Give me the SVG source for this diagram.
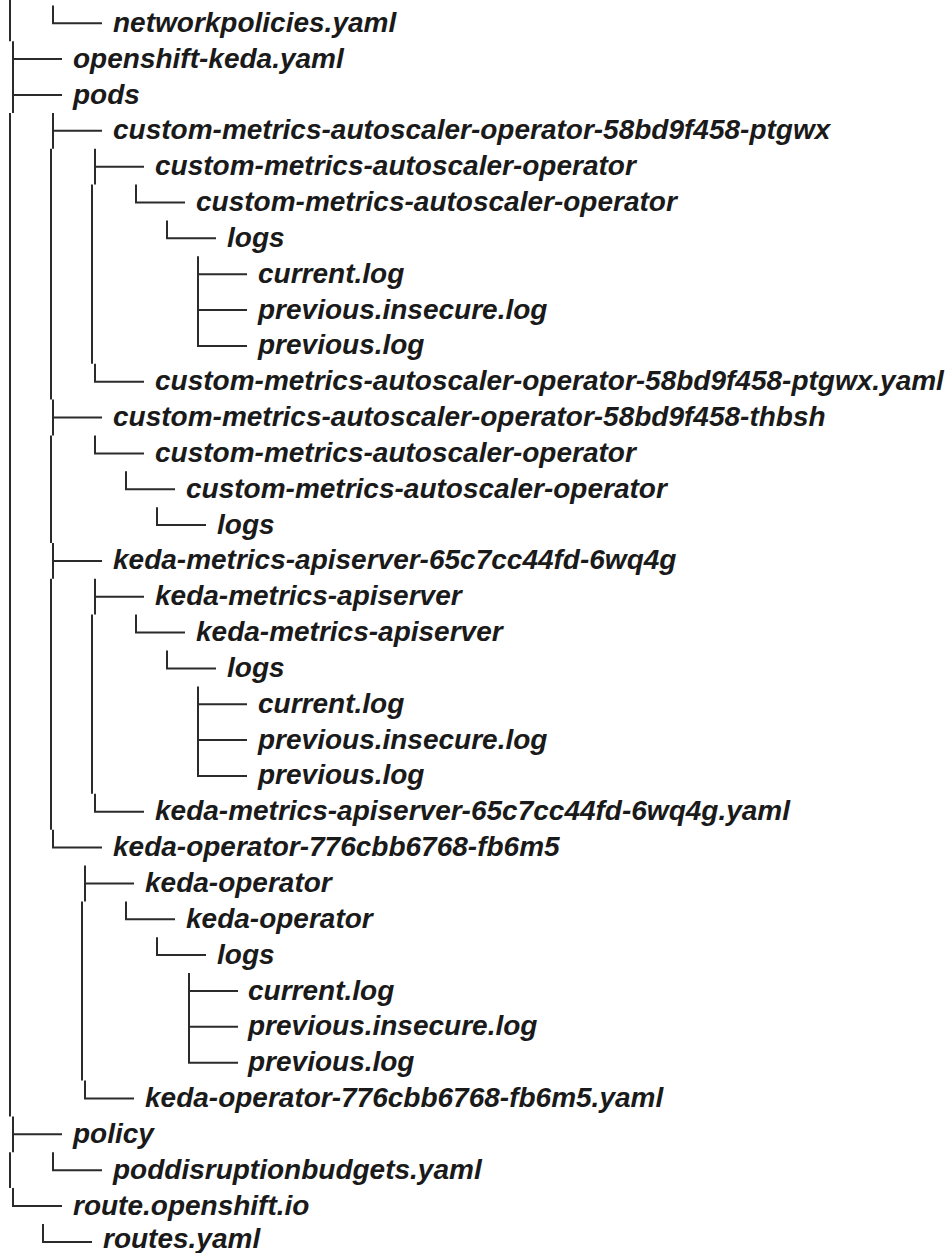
<svg xmlns="http://www.w3.org/2000/svg" width="952" height="1253" viewBox="0 0 952 1253">
<style>
.t{font-family:"Liberation Sans",Arial,sans-serif;font-weight:bold;font-style:italic;font-size:28px;fill:#1a1a1a}
.ln{fill:none;stroke:#2b2b2b;stroke-width:2}
</style>
<rect width="952" height="1253" fill="#ffffff"/>
<g id="connectors">
<path class="ln" d="M10 0V41.2M10 112.9V1116.4M10 1152.3V1188.1"/>
<path class="ln" d="M13 41.2V112.9M13 59.1H62M13 95H62"/>
<path class="ln" d="M13 1116.4V1152.3M13 1134.3H62"/>
<path class="ln" d="M13 1188.1V1206H62"/>
<path class="ln" d="M53 5.4V23.3H102"/>
<path class="ln" d="M53 112.9V148.8M53 130.8H102"/>
<path class="ln" d="M51 148.8V399.6"/>
<path class="ln" d="M53 399.6V435.5M53 417.5H102"/>
<path class="ln" d="M51 435.5V543"/>
<path class="ln" d="M53 543V578.8M53 560.9H102"/>
<path class="ln" d="M51 578.8V829.7"/>
<path class="ln" d="M53 829.7V847.6H102"/>
<path class="ln" d="M53 1152.3V1170.2H102"/>
<path class="ln" d="M43 1224V1241.9H92"/>
<path class="ln" d="M95 148.8V184.6M95 166.7H144"/>
<path class="ln" d="M92 184.6V363.8"/>
<path class="ln" d="M95 363.8V381.7H144"/>
<path class="ln" d="M95 435.5V453.4H144"/>
<path class="ln" d="M95 578.8V614.6M95 596.7H144"/>
<path class="ln" d="M92 614.6V793.8"/>
<path class="ln" d="M95 793.8V811.8H144"/>
<path class="ln" d="M85 865.6V901.4M85 883.5H134"/>
<path class="ln" d="M82 901.4V1080.6"/>
<path class="ln" d="M85 1080.6V1098.5H134"/>
<path class="ln" d="M136 184.6V202.5H185"/>
<path class="ln" d="M136 614.6V632.6H185"/>
<path class="ln" d="M126 471.3V489.2H175"/>
<path class="ln" d="M126 901.4V919.3H175"/>
<path class="ln" d="M167 220.4V238.3H216"/>
<path class="ln" d="M167 650.5V668.4H216"/>
<path class="ln" d="M157 507.2V525.1H206"/>
<path class="ln" d="M157 937.2V955.1H206"/>
<path class="ln" d="M198 256.3V345.9H247M198 274.2H247M198 310H247"/>
<path class="ln" d="M198 686.4V775.9H247M198 704.3H247M198 740.1H247"/>
<path class="ln" d="M189 973.1V1062.7H238M189 991H238M189 1026.8H238"/>
</g>
<g id="n1"><text class="t" x="113" y="31.8">networkpolicies.yaml</text></g>
<g id="n2"><text class="t" x="73" y="67.6">openshift-keda.yaml</text></g>
<g id="n3"><text class="t" x="73" y="103.5">pods</text></g>
<g id="n4"><text class="t" x="113" y="139.3">custom-metrics-autoscaler-operator-58bd9f458-ptgwx</text></g>
<g id="n5"><text class="t" x="155" y="175.2">custom-metrics-autoscaler-operator</text></g>
<g id="n6"><text class="t" x="196" y="211">custom-metrics-autoscaler-operator</text></g>
<g id="n7"><text class="t" x="227" y="246.8">logs</text></g>
<g id="n8"><text class="t" x="258" y="282.7">current.log</text></g>
<g id="n9"><text class="t" x="258" y="318.5">previous.insecure.log</text></g>
<g id="n10"><text class="t" x="258" y="354.4">previous.log</text></g>
<g id="n11"><text class="t" x="155" y="390.2">custom-metrics-autoscaler-operator-58bd9f458-ptgwx.yaml</text></g>
<g id="n12"><text class="t" x="113" y="426">custom-metrics-autoscaler-operator-58bd9f458-thbsh</text></g>
<g id="n13"><text class="t" x="155" y="461.9">custom-metrics-autoscaler-operator</text></g>
<g id="n14"><text class="t" x="186" y="497.7">custom-metrics-autoscaler-operator</text></g>
<g id="n15"><text class="t" x="217" y="533.6">logs</text></g>
<g id="n16"><text class="t" x="113" y="569.4">keda-metrics-apiserver-65c7cc44fd-6wq4g</text></g>
<g id="n17"><text class="t" x="155" y="605.2">keda-metrics-apiserver</text></g>
<g id="n18"><text class="t" x="196" y="641.1">keda-metrics-apiserver</text></g>
<g id="n19"><text class="t" x="227" y="676.9">logs</text></g>
<g id="n20"><text class="t" x="258" y="712.8">current.log</text></g>
<g id="n21"><text class="t" x="258" y="748.6">previous.insecure.log</text></g>
<g id="n22"><text class="t" x="258" y="784.4">previous.log</text></g>
<g id="n23"><text class="t" x="155" y="820.3">keda-metrics-apiserver-65c7cc44fd-6wq4g.yaml</text></g>
<g id="n24"><text class="t" x="113" y="856.1">keda-operator-776cbb6768-fb6m5</text></g>
<g id="n25"><text class="t" x="145" y="892">keda-operator</text></g>
<g id="n26"><text class="t" x="186" y="927.8">keda-operator</text></g>
<g id="n27"><text class="t" x="217" y="963.6">logs</text></g>
<g id="n28"><text class="t" x="248" y="999.5">current.log</text></g>
<g id="n29"><text class="t" x="248" y="1035.3">previous.insecure.log</text></g>
<g id="n30"><text class="t" x="248" y="1071.2">previous.log</text></g>
<g id="n31"><text class="t" x="145" y="1107">keda-operator-776cbb6768-fb6m5.yaml</text></g>
<g id="n32"><text class="t" x="73" y="1142.8">policy</text></g>
<g id="n33"><text class="t" x="113" y="1178.7">poddisruptionbudgets.yaml</text></g>
<g id="n34"><text class="t" x="73" y="1214.5">route.openshift.io</text></g>
<g id="n35"><text class="t" x="103" y="1247.5">routes.yaml</text></g>
</svg>
